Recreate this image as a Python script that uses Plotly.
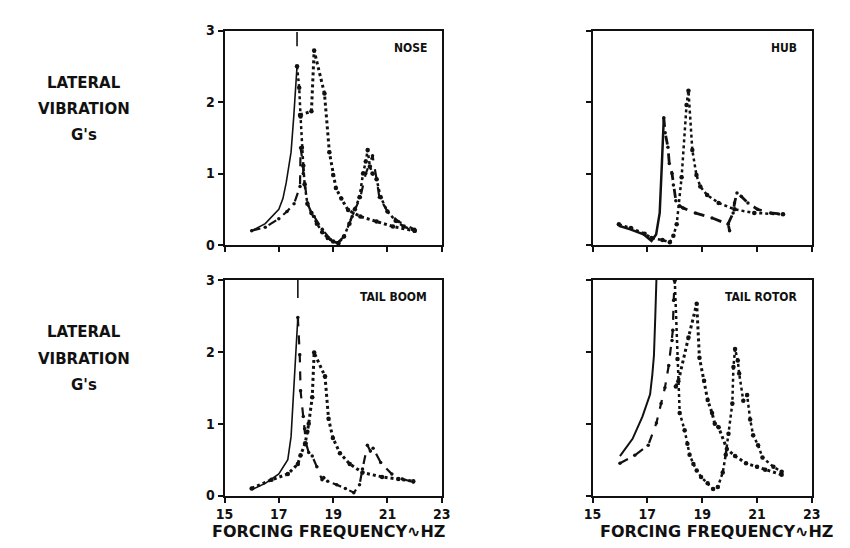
import plotly.graph_objects as go
from plotly.subplots import make_subplots

# ---- data (frequency in Hz, lateral vibration in g) ----
freq_ticks = [15, 17, 19, 21, 23]
g_ticks = [0, 1, 2, 3]

# NOSE
nose_up_x = [16.0, 16.5, 17.0, 17.15, 17.27, 17.45, 17.55, 17.62, 17.67]
nose_up_y = [0.2, 0.3, 0.5, 0.65, 0.87, 1.3, 1.8, 2.2, 2.5]
nose_tick_x = [17.67, 17.67]
nose_tick_y = [2.78, 2.98]
nose_down_x = [17.67, 17.75, 17.8, 17.85, 17.9, 17.95, 18.05, 18.2, 18.4, 18.6, 18.8, 19.0,
               19.2, 19.4, 19.6, 19.8, 19.97, 20.1, 20.2, 20.27, 20.35, 20.45, 20.6, 20.75,
               21.0, 21.3, 21.6, 22.0]
nose_down_y = [2.5, 2.2, 1.8, 1.36, 1.11, 0.85, 0.58, 0.45, 0.3, 0.18, 0.1, 0.05,
               0.03, 0.12, 0.3, 0.5, 0.67, 1.0, 1.17, 1.33, 1.1, 1.0, 0.92, 0.67,
               0.47, 0.34, 0.26, 0.2]
nose_lo_x = [16.0, 16.5, 17.0, 17.3, 17.56, 17.78, 17.8, 17.9, 17.9, 18.06, 18.2, 18.3, 18.6,
             18.9, 19.15, 19.4, 19.7, 20.0, 20.2, 20.45, 20.6, 20.7, 21.0, 21.4, 22.0]
nose_lo_y = [0.2, 0.25, 0.37, 0.47, 0.58, 0.82, 1.36, 1.11, 1.0, 0.58, 0.45, 0.4, 0.22,
             0.08, 0.03, 0.12, 0.4, 0.67, 1.0, 1.25, 0.92, 0.67, 0.47, 0.33, 0.22]
nose_mid_x = [17.78, 18.2, 18.3, 18.68, 18.86, 19.0, 19.1, 19.3, 19.55, 20.0, 20.6, 21.2, 22.0]
nose_mid_y = [1.82, 1.87, 2.72, 2.12, 1.3, 0.98, 0.8, 0.65, 0.49, 0.4, 0.33, 0.26, 0.2]

# HUB
hub_up_x = [15.96, 16.38, 16.86, 17.15, 17.32, 17.45, 17.53, 17.6]
hub_up_y = [0.27, 0.22, 0.15, 0.06, 0.15, 0.45, 1.14, 1.78]
hub_down_x = [17.6, 17.65, 17.75, 17.8, 17.9, 17.95, 18.04, 18.17, 18.3, 18.75, 19.36, 19.95, 20.0]
hub_down_y = [1.78, 1.57, 1.37, 1.14, 1.0, 0.84, 0.62, 0.55, 0.52, 0.45, 0.38, 0.29, 0.2]
hub_lo_x = [15.96, 16.4, 16.9, 17.15, 17.55, 17.82, 17.95, 18.07, 18.25, 18.43, 18.5, 18.64,
            18.79, 18.93, 19.18, 19.6, 20.18, 20.9, 21.95]
hub_lo_y = [0.29, 0.24, 0.16, 0.1, 0.07, 0.04, 0.13, 0.29, 0.95, 1.96, 2.16, 1.33,
            0.98, 0.82, 0.7, 0.59, 0.5, 0.45, 0.43]
hub_mode2_x = [19.95, 20.13, 20.18, 20.27, 20.43, 20.67, 21.02, 21.5, 21.95]
hub_mode2_y = [0.3, 0.45, 0.59, 0.73, 0.68, 0.59, 0.5, 0.45, 0.43]

# TAIL BOOM
tb_up_x = [16.0, 16.5, 17.0, 17.33, 17.45, 17.5, 17.57, 17.62, 17.7]
tb_up_y = [0.08, 0.17, 0.3, 0.5, 0.82, 1.18, 1.6, 2.05, 2.48]
tb_tick_x = [17.7, 17.7]
tb_tick_y = [2.75, 3.0]
tb_down_x = [17.7, 17.77, 17.8, 17.9, 17.95, 18.0, 18.1, 18.23, 18.4, 18.59, 18.65, 18.8,
             19.13, 19.45, 19.76, 19.97, 20.08, 20.26, 20.37, 20.47, 20.75, 21.16, 21.55, 21.95]
tb_down_y = [2.48, 1.96, 1.46, 1.1, 0.93, 0.73, 0.6, 0.55, 0.4, 0.22, 0.25, 0.2,
             0.15, 0.1, 0.04, 0.15, 0.37, 0.7, 0.62, 0.66, 0.46, 0.3, 0.23, 0.19]
tb_mid_x = [16.0, 16.73, 17.33, 17.7, 17.8, 17.97, 18.05, 18.1, 18.23, 18.3, 18.7, 18.83,
            18.99, 19.25, 19.61, 20.08, 20.8, 21.4, 21.95]
tb_mid_y = [0.1, 0.22, 0.3, 0.44, 0.56, 0.73, 0.89, 1.0, 1.37, 1.99, 1.66, 1.07,
            0.8, 0.59, 0.44, 0.32, 0.26, 0.23, 0.2]

# TAIL ROTOR
tr_up_x = [16.0, 16.46, 16.82, 17.1, 17.18, 17.24, 17.29, 17.33]
tr_up_y = [0.55, 0.79, 1.1, 1.41, 1.68, 1.95, 2.5, 3.0]
tr_lo_x = [16.0, 16.54, 17.03, 17.33, 17.5, 17.64, 17.78, 17.9, 17.93, 17.96, 18.0]
tr_lo_y = [0.45, 0.56, 0.7, 1.01, 1.28, 1.5, 1.81, 2.16, 2.3, 2.72, 3.0]
tr_down_x = [18.0, 18.1, 18.18, 18.36, 18.46, 18.54, 18.68, 18.8, 18.96, 19.2, 19.4, 19.57,
             19.75, 19.86, 19.96, 20.1, 20.14, 20.2, 20.3, 20.35, 20.5, 20.64, 20.75, 20.86,
             21.04, 21.2, 21.6, 21.9]
tr_down_y = [3.0, 1.9, 1.15, 0.91, 0.72, 0.57, 0.44, 0.35, 0.26, 0.17, 0.09, 0.12,
             0.32, 0.57, 0.86, 1.28, 1.79, 2.04, 1.88, 1.7, 1.32, 1.4, 1.06, 0.84,
             0.7, 0.53, 0.4, 0.33]
tr_mid_x = [18.04, 18.13, 18.5, 18.8, 18.9, 19.07, 19.2, 19.36, 19.46, 19.6, 19.9, 20.2,
            20.6, 21.0, 21.3, 21.9]
tr_mid_y = [1.52, 1.59, 2.2, 2.67, 1.92, 1.6, 1.33, 1.15, 1.0, 0.95, 0.65, 0.55,
            0.45, 0.4, 0.36, 0.29]

panel_names = ["NOSE", "HUB", "TAIL BOOM", "TAIL ROTOR"]

INK = "#111111"
HEAVY = "DejaVu Sans"
NARROW = "DejaVu Sans Condensed, Liberation Sans Narrow, DejaVu Sans"

fig = make_subplots(rows=2, cols=2)


def solid(x, y, row, col, width=1.6):
    fig.add_trace(go.Scatter(x=x, y=y, mode="lines", line=dict(color=INK, width=width),
                             showlegend=False, hoverinfo="skip"), row=row, col=col)


def dotted(x, y, row, col, width=2.5, size=4.5):
    fig.add_trace(go.Scatter(x=x, y=y, mode="lines+markers",
                             line=dict(color=INK, width=width, dash="dot"),
                             marker=dict(color=INK, size=size),
                             showlegend=False, hoverinfo="skip"), row=row, col=col)


def dashed(x, y, row, col, width=2.2, size=3.5):
    fig.add_trace(go.Scatter(x=x, y=y, mode="lines+markers",
                             line=dict(color=INK, width=width, dash="dash"),
                             marker=dict(color=INK, size=size),
                             showlegend=False, hoverinfo="skip"), row=row, col=col)


# NOSE
solid(nose_up_x, nose_up_y, 1, 1)
solid(nose_tick_x, nose_tick_y, 1, 1)
dotted(nose_down_x, nose_down_y, 1, 1)
dashed(nose_lo_x, nose_lo_y, 1, 1)
dotted(nose_mid_x, nose_mid_y, 1, 1, width=3)

# HUB
solid(hub_up_x, hub_up_y, 1, 2, width=2.5)
dashed(hub_down_x, hub_down_y, 1, 2, width=2.8)
dotted(hub_lo_x, hub_lo_y, 1, 2)
dashed(hub_mode2_x, hub_mode2_y, 1, 2, width=2.8)

# TAIL BOOM
solid(tb_up_x, tb_up_y, 2, 1)
solid(tb_tick_x, tb_tick_y, 2, 1)
dashed(tb_down_x, tb_down_y, 2, 1)
dotted(tb_mid_x, tb_mid_y, 2, 1, width=3)

# TAIL ROTOR
solid(tr_up_x, tr_up_y, 2, 2, width=2)
dashed(tr_lo_x, tr_lo_y, 2, 2)
dotted(tr_down_x, tr_down_y, 2, 2)
dotted(tr_mid_x, tr_mid_y, 2, 2, width=3)

W, H = 850, 548
x_dom = [[212 / W, 434 / W], [588 / W, 812 / W]]
y_dom = [[1 - 236 / H, 1 - 15 / H], [1 - 494 / H, 1 - 272 / H]]

for r in (1, 2):
    for c in (1, 2):
        fig.update_xaxes(domain=x_dom[c - 1], range=[15, 23], tickvals=freq_ticks,
                         showticklabels=(r == 2), row=r, col=c)
        fig.update_yaxes(domain=y_dom[r - 1], range=[0, 3], tickvals=g_ticks,
                         showticklabels=(c == 1), row=r, col=c)

fig.update_xaxes(showline=True, mirror=True, linecolor=INK, linewidth=2,
                 ticks="outside", ticklen=5, tickwidth=2, tickcolor=INK,
                 showgrid=False, zeroline=False,
                 tickfont=dict(family=NARROW, size=14, color=INK, weight="bold"))
fig.update_yaxes(showline=True, mirror=True, linecolor=INK, linewidth=2,
                 ticks="outside", ticklen=5, tickwidth=2, tickcolor=INK,
                 showgrid=False, zeroline=False,
                 tickfont=dict(family=NARROW, size=14, color=INK, weight="bold"))

# panel names, top right inside each box
axis_ids = [("x", "y"), ("x2", "y2"), ("x3", "y3"), ("x4", "y4")]
for name, (xa, ya) in zip(panel_names, axis_ids):
    fig.add_annotation(text=name, xref=xa + " domain", yref=ya + " domain",
                       x=0.94, y=0.92, xanchor="right", yanchor="middle", showarrow=False,
                       font=dict(family=NARROW, size=12, color=INK, weight="bold"))

# left-hand axis captions
caption_lines = ["LATERAL", "VIBRATION", "G's"]
for top in (69, 326):
    for i, line in enumerate(caption_lines):
        fig.add_annotation(text=line, xref="paper", yref="paper",
                           x=68 / W, y=1 - (top + 27 * i) / H,
                           xanchor="center", yanchor="middle", showarrow=False,
                           font=dict(family=HEAVY, size=15, color=INK, weight="bold"))

# bottom axis captions
for cx in (318, 715):
    fig.add_annotation(text="FORCING FREQUENCY\u223fHZ", xref="paper", yref="paper",
                       x=cx / W, y=1 - 531 / H, xanchor="center", yanchor="middle",
                       showarrow=False,
                       font=dict(family=HEAVY, size=16, color=INK, weight="bold"))

fig.update_layout(width=W, height=H, margin=dict(l=0, r=0, t=0, b=0),
                  plot_bgcolor="white", paper_bgcolor="white", showlegend=False)

fig.write_html("out.html")
